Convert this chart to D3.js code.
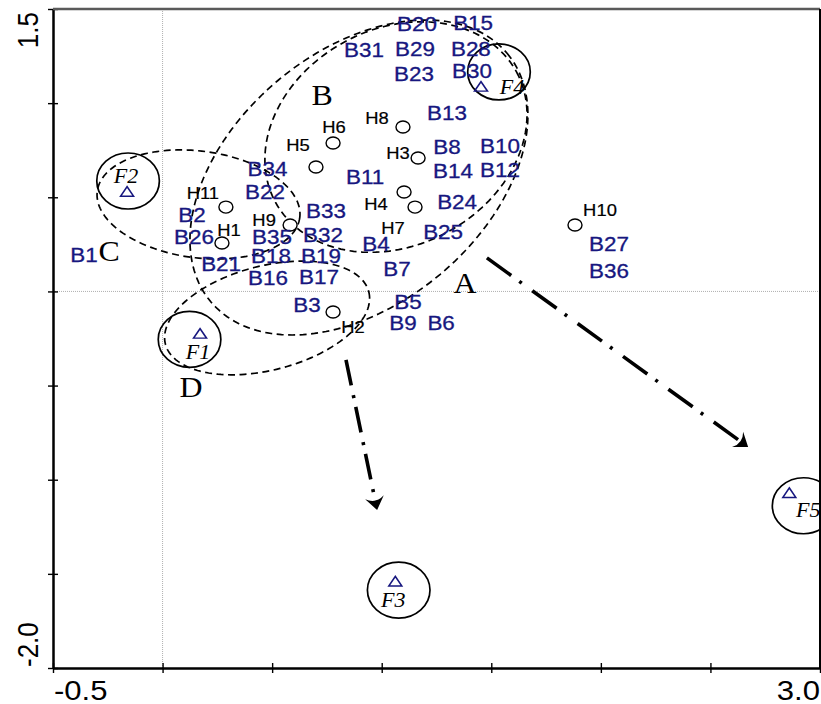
<!DOCTYPE html>
<html><head><meta charset="utf-8">
<script src="https://cdn.jsdelivr.net/npm/d3@7"></script>
<style>body{margin:0;background:#fff}svg{display:block}</style>
</head><body>
<svg id="chart" width="821" height="704"></svg>
<script>
// ---------- data ----------
const xDomain = [-0.5, 3.0];
const yDomain = [-2.0, 1.5];
const tickStep = 0.5;
const xTickLabels = ["-0.5", "3.0"];
const yTickLabels = ["1.5", "-2.0"];

const speciesNames = ["B1","B2","B3","B4","B5","B6","B7","B8","B9","B10","B11","B12","B13","B14","B15","B16","B17","B18","B19","B20","B21","B22","B23","B24","B25","B26","B27","B28","B29","B30","B31","B32","B33","B34","B35","B36"];
const speciesX = [-0.359,0.134,0.659,0.974,1.120,1.271,1.070,1.298,1.097,1.540,0.924,1.540,1.298,1.325,1.417,0.481,0.714,0.495,0.723,1.161,0.267,0.467,1.147,1.344,1.280,0.143,2.037,1.407,1.152,1.412,0.919,0.732,0.746,0.479,0.499,2.037];
const speciesY = [0.193,0.406,-0.072,0.252,-0.056,-0.168,0.119,0.767,-0.168,0.772,0.608,0.645,0.948,0.640,1.426,0.071,0.077,0.188,0.188,1.420,0.146,0.528,1.155,0.475,0.316,0.289,0.252,1.288,1.288,1.171,1.282,0.300,0.427,0.650,0.289,0.109];

const siteNames = ["H1","H2","H3","H4","H5","H6","H7","H8","H9","H10","H11"];
const siteX = [0.271,0.778,1.166,1.102,0.700,0.778,1.152,1.097,0.582,1.882,0.289];
const siteY = [0.257,-0.109,0.709,0.528,0.661,0.788,0.448,0.873,0.353,0.353,0.448];

const factorNames = ["F1","F2","F3","F4","F5"];
const factorX = [0.171,-0.162,1.062,1.453,2.860];
const factorY = [-0.226,0.528,-1.542,1.086,-1.072];

// group ellipses: centre and two conjugate half-axis vectors, in data units
const groupNames = ["A","B","C","D"];
const groupCX = [0.896,1.065,0.164,0.477];
const groupCY = [0.605,0.820,0.462,-0.141];
const groupAX = [0.676,0.550,0.462,0.464];
const groupAY = [0.660,0.346,-0.070,0.139];
const groupBX = [0.371,0.235,-0.031,0.059];
const groupBY = [-0.514,-0.505,-0.281,-0.268];
const groupLabelX = [1.380,0.728,-0.244,0.130];
const groupLabelY = [0.045,1.043,0.215,-0.508];

// trend arrows
const arrowX1 = [0.837,1.480];
const arrowY1 = [-0.364,0.178];
const arrowX2 = [0.979,2.672];
const arrowY2 = [-1.161,-0.826];

// ---------- layout (pixels) ----------
const siteLabelDX = [7,20,-20,-28,-18,1,-22,-26,-26,25,-23];
const siteLabelDY = [-13,15,-5,12,-22,-16,21,-9,-5,-15,-14];
const factorLabelDX = [-2,-1,-2,31,19];
const factorLabelDY = [18,-16,19,0,17];
const factorRingDX = [-10.5,1,3.4,18,14.3];
const factorRingDY = [5.4,-11,8.3,-15,12.5];
const arrowDash = ["26,10,3,9","30,10,3,13"];

const M = {left:53, right:820, top:9, bottom:668};
const SX = 1.15;           // horizontal text stretch of the original
const navy = "#17177f";
const sans = "'Liberation Sans', Arial, sans-serif";
const serif = "'Liberation Serif', 'Times New Roman', serif";

const x = d3.scaleLinear().domain(xDomain).range([M.left, M.right]);
const y = d3.scaleLinear().domain(yDomain).range([M.bottom, M.top]);
const svg = d3.select("#chart");

function label(g, px, py, txt, o) {
  const t = g.append("text")
    .attr("transform", `translate(${px},${py}) scale(${o.sx||SX},1)` + (o.rot ? ` rotate(${o.rot})` : ""))
    .attr("text-anchor", o.anchor || "middle")
    .attr("dy", o.dy === undefined ? "0.36em" : o.dy)
    .attr("font-family", o.family || sans)
    .attr("font-size", o.size)
    .attr("fill", o.fill || "#000")
    .text(txt);
  if (o.italic) t.attr("font-style", "italic");
  if (o.stroke) t.attr("stroke", o.fill || "#000").attr("stroke-width", o.stroke);
  return t;
}

// marker
const defs = svg.append("defs");
defs.append("marker").attr("id","head").attr("markerUnits","userSpaceOnUse")
  .attr("viewBox","-16 -11 18 22").attr("refX",0).attr("refY",0)
  .attr("markerWidth",18).attr("markerHeight",22).attr("orient","auto")
  .append("path").attr("d","M0,0 L-13,-9.5 Q-6,0 -13,9.5 Z").attr("fill","#000");

// zero reference lines
svg.append("line").attr("x1",x(0)).attr("x2",x(0)).attr("y1",M.top).attr("y2",M.bottom)
  .attr("stroke","#b0b0b0").attr("stroke-width",1).attr("stroke-dasharray","1,1");
svg.append("line").attr("x1",M.left).attr("x2",M.right).attr("y1",y(0)).attr("y2",y(0))
  .attr("stroke","#b0b0b0").attr("stroke-width",1).attr("stroke-dasharray","1,1");

// group ellipses
const ts = d3.range(0, 181).map(k => k / 180 * 2 * Math.PI);
const lineGen = d3.line().curve(d3.curveLinearClosed);
svg.append("g").selectAll("path").data(groupNames).join("path")
  .attr("d", (n, i) => lineGen(ts.map(t => [
      x(groupCX[i] + Math.cos(t) * groupAX[i] + Math.sin(t) * groupBX[i]),
      y(groupCY[i] + Math.cos(t) * groupAY[i] + Math.sin(t) * groupBY[i])])))
  .attr("fill","none").attr("stroke","#000").attr("stroke-width",1.7)
  .attr("stroke-dasharray","7,4.5");

// group letters
const gl = svg.append("g");
groupNames.forEach((n, i) => label(gl, x(groupLabelX[i]), y(groupLabelY[i]), n,
  {size: 29, family: serif, dy: "0.33em", sx: 1.1}));

// arrows
const ga = svg.append("g");
arrowX1.forEach((v, i) => {
  const x1 = x(arrowX1[i]), y1 = y(arrowY1[i]), x2 = x(arrowX2[i]), y2 = y(arrowY2[i]);
  const L = Math.hypot(x2 - x1, y2 - y1), ux = (x2 - x1) / L, uy = (y2 - y1) / L;
  ga.append("line").attr("x1",x1).attr("y1",y1).attr("x2",x2 - ux*7).attr("y2",y2 - uy*7)
    .attr("stroke","#000").attr("stroke-width",3.6).attr("stroke-dasharray",arrowDash[i]);
  ga.append("line").attr("x1",x2 - ux*7).attr("y1",y2 - uy*7).attr("x2",x2).attr("y2",y2)
    .attr("stroke","none").attr("marker-end","url(#head)");
});

// factor rings, triangles and labels
const gf = svg.append("g");
factorNames.forEach((n, i) => {
  const px = x(factorX[i]), py = y(factorY[i]);
  gf.append("ellipse").attr("cx", px + factorRingDX[i]).attr("cy", py + factorRingDY[i])
    .attr("rx",31.3).attr("ry",28).attr("fill","none").attr("stroke","#000").attr("stroke-width",1.7);
  gf.append("path").attr("d", d3.symbol(d3.symbolTriangle, 58)())
    .attr("transform", `translate(${px},${py+1}) scale(1.12,0.95)`)
    .attr("fill","none").attr("stroke",navy).attr("stroke-width",1.5);
  label(gf, px + factorLabelDX[i], py + factorLabelDY[i], n,
    {size: 20, family: serif, italic: true, dy: "0.33em", sx: 1.1});
});

// sites
const gs = svg.append("g");
siteNames.forEach((n, i) => {
  const px = x(siteX[i]), py = y(siteY[i]);
  gs.append("ellipse").attr("cx",px).attr("cy",py).attr("rx",7).attr("ry",6)
    .attr("fill","#fff").attr("stroke","#000").attr("stroke-width",1.4);
  label(gs, px + siteLabelDX[i], py + siteLabelDY[i], n, {size: 16, stroke: 0.2});
});

// species labels
const gb = svg.append("g");
speciesNames.forEach((n, i) => label(gb, x(speciesX[i]), y(speciesY[i]), n, {size: 19.5, fill: navy, stroke: 0.3}));

// axes
const xTicks = d3.range(xDomain[0], xDomain[1] + 1e-9, tickStep);
const yTicks = d3.range(yDomain[0], yDomain[1] + 1e-9, tickStep);
function styleAxis(g, w) {
  g.select(".domain").attr("stroke","#000").attr("stroke-width",w);
  g.selectAll(".tick line").attr("stroke","#000").attr("stroke-width",1.4);
}
[d3.axisLeft, d3.axisRight].forEach(ax => {
  svg.append("g").attr("transform",`translate(${M.left},0)`)
    .call(ax(y).tickValues(yTicks).tickSizeInner(5).tickSizeOuter(0).tickFormat(""))
    .call(g => styleAxis(g, 2));
});
[d3.axisBottom, d3.axisTop].forEach(ax => {
  svg.append("g").attr("transform",`translate(0,${M.bottom})`)
    .call(ax(x).tickValues(xTicks).tickSizeInner(5).tickSizeOuter(0).tickFormat(""))
    .call(g => styleAxis(g, 2));
});
// frame top/right
svg.append("line").attr("x1",M.left).attr("x2",M.right).attr("y1",M.top).attr("y2",M.top)
  .attr("stroke","#5a5a5a").attr("stroke-width",2.5);
svg.append("line").attr("x1",M.right).attr("x2",M.right).attr("y1",M.top).attr("y2",M.bottom)
  .attr("stroke","#000").attr("stroke-width",2);

// tick labels at the extremes
const gt = svg.append("g");
label(gt, x(xDomain[0]) + 1, 700, xTickLabels[0], {size: 27, anchor: "start", dy: 0});
label(gt, x(xDomain[1]), 700, xTickLabels[1], {size: 27, anchor: "end", dy: 0});
label(gt, 38, y(yDomain[1]) + 3, yTickLabels[0], {size: 26, anchor: "end", dy: 0, rot: -90});
label(gt, 38, y(yDomain[0]) - 1, yTickLabels[1], {size: 26, anchor: "start", dy: 0, rot: -90});
</script>
</body></html>
